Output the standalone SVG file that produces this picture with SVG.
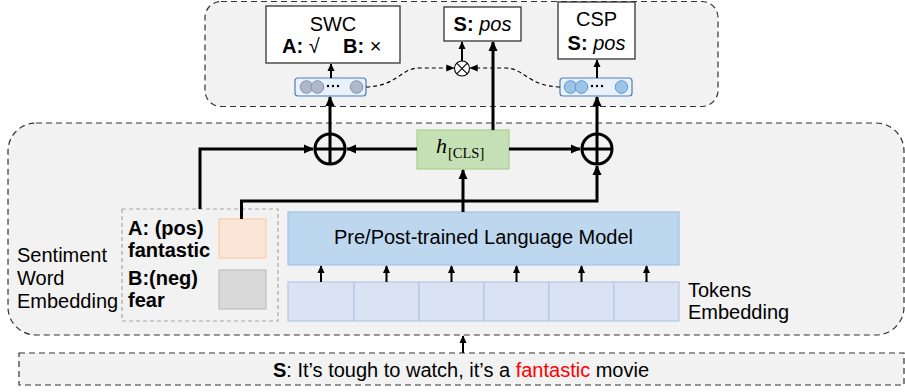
<svg xmlns="http://www.w3.org/2000/svg" width="905" height="392" viewBox="0 0 905 392">
<style>
text{font-family:"Liberation Sans",Arial,sans-serif;font-size:20px;fill:#000}
.b{font-weight:bold}
.i{font-style:italic}
.panel{fill:#F2F2F2;stroke:#333;stroke-width:1.2;stroke-dasharray:6 4}
.box{fill:#fff;stroke:#333;stroke-width:1.3}
.thick{fill:none;stroke:#000;stroke-width:3}
.thin{fill:none;stroke:#000;stroke-width:2}
.dash{fill:none;stroke:#000;stroke-width:1.2;stroke-dasharray:4 3}
.cell{fill:#DAE3F3;stroke:#B4C7E7;stroke-width:1.2}
.cg{fill:#ADB9CA;stroke:#8497B0;stroke-width:1}
.cb{fill:#9DC3E6;stroke:#5B9BD5;stroke-width:1}
.vec{fill:#EAF1FA;stroke:#4A7EBB;stroke-width:1.2}
</style>
<defs>
<marker id="ah" markerUnits="userSpaceOnUse" markerWidth="10" markerHeight="10" viewBox="0 0 10 10" refX="9" refY="5" orient="auto"><path d="M0,0.5 L10,5 L0,9.5 Z" fill="#000"/></marker>
<marker id="as" markerUnits="userSpaceOnUse" markerWidth="8" markerHeight="8" viewBox="0 0 10 10" refX="9" refY="5" orient="auto"><path d="M0,0.5 L10,5 L0,9.5 Z" fill="#000"/></marker>
</defs>

<g id="top-panel"><rect class="panel" x="205" y="1.5" width="513" height="105" rx="16"/></g>
<g id="main-panel"><rect class="panel" x="8" y="123" width="896" height="212" rx="28"/></g>
<g id="sentence">
<rect class="panel" x="19" y="353" width="885" height="32"/>
<text x="461" y="376.5" text-anchor="middle"><tspan class="b">S</tspan>: It’s tough to watch, it’s a <tspan fill="#FF0000" style="fill:#FF0000">fantastic</tspan> movie</text>
</g>

<g id="swc">
<rect class="box" x="266" y="6" width="134" height="57"/>
<text x="333" y="30.5" text-anchor="middle">SWC</text>
<text x="282" y="53"><tspan class="b">A:</tspan> √</text>
<text x="343" y="53"><tspan class="b">B:</tspan> ×</text>
</g>
<g id="spos">
<rect class="box" x="444" y="7" width="77" height="34"/>
<text x="482.5" y="30.5" text-anchor="middle"><tspan class="b">S:</tspan> <tspan class="i">pos</tspan></text>
</g>
<g id="csp">
<rect class="box" x="558" y="2" width="77" height="57"/>
<text x="596.5" y="26" text-anchor="middle">CSP</text>
<text x="596.5" y="50" text-anchor="middle"><tspan class="b">S:</tspan> <tspan class="i">pos</tspan></text>
</g>

<g id="swc-vector">
<rect class="vec" x="295" y="78" width="71" height="18" rx="3"/>
<circle class="cg" cx="306.5" cy="87" r="6.3"/>
<circle class="cg" cx="317.5" cy="87" r="6.3"/>
<circle cx="328" cy="86" r="1.2"/><circle cx="333" cy="86" r="1.2"/><circle cx="338" cy="86" r="1.2"/>
<circle class="cg" cx="356.5" cy="87" r="6.3"/>
</g>
<g id="csp-vector">
<rect class="vec" x="560" y="78" width="72" height="18" rx="3"/>
<circle class="cb" cx="570.5" cy="87" r="6.3"/>
<circle class="cb" cx="581.5" cy="87" r="6.3"/>
<circle cx="592" cy="86" r="1.2"/><circle cx="597" cy="86" r="1.2"/><circle cx="602" cy="86" r="1.2"/>
<circle class="cb" cx="621.5" cy="87" r="6.3"/>
</g>
<g id="otimes">
<circle cx="462" cy="68.5" r="7.5" fill="#fff" stroke="#000" stroke-width="1.1"/>
<path d="M456.7,63.2 L467.3,73.8 M467.3,63.2 L456.7,73.8" stroke="#000" stroke-width="1.1"/>
</g>

<g id="oplus-left">
<circle cx="330" cy="149" r="15" fill="none" stroke="#000" stroke-width="3"/>
<path d="M315,149 H345 M330,134 V164" stroke="#000" stroke-width="3"/>
</g>
<g id="oplus-right">
<circle cx="597" cy="149" r="15" fill="none" stroke="#000" stroke-width="3"/>
<path d="M582,149 H612 M597,134 V164" stroke="#000" stroke-width="3"/>
</g>

<g id="hcls">
<rect x="417" y="130" width="92" height="39" fill="#C5E0B4" stroke="#A9D18E" stroke-width="1.2"/>
<text x="436" y="153" style="font-family:'Liberation Serif','DejaVu Serif',serif;font-style:italic;font-size:22px">h</text>
<text x="448" y="158" style="font-family:'Liberation Serif','DejaVu Serif',serif;font-size:14.5px">[CLS]</text>
</g>

<g id="lm">
<rect x="288" y="212" width="391" height="53" fill="#BDD7EE" stroke="#9DC3E6" stroke-width="1.2"/>
<text x="483.5" y="244" text-anchor="middle">Pre/Post-trained Language Model</text>
</g>

<g id="tokens">
<rect class="cell" x="288" y="282" width="66" height="39"/>
<rect class="cell" x="354" y="282" width="65" height="39"/>
<rect class="cell" x="419" y="282" width="65" height="39"/>
<rect class="cell" x="484" y="282" width="65" height="39"/>
<rect class="cell" x="549" y="282" width="65" height="39"/>
<rect class="cell" x="614" y="282" width="65" height="39"/>
<text x="688" y="297">Tokens</text>
<text x="688" y="318.5">Embedding</text>
</g>

<g id="swe">
<rect x="122" y="209" width="156" height="112" fill="none" stroke="#A6A6A6" stroke-width="1.2" stroke-dasharray="4 3"/>
<text class="b" x="128" y="235">A: (pos)</text>
<text class="b" x="128" y="256.5">fantastic</text>
<text class="b" x="128" y="285">B:(neg)</text>
<text class="b" x="128" y="306.5">fear</text>
<rect x="219" y="219" width="47" height="39" fill="#FBE5D6" stroke="#F8CBAD" stroke-width="1.2"/>
<rect x="219" y="270" width="47" height="39" fill="#D9D9D9" stroke="#BFBFBF" stroke-width="1.2"/>
<text x="17" y="261.5">Sentiment</text>
<text x="17" y="285">Word</text>
<text x="17" y="308">Embedding</text>
</g>

<g id="connectors">
<path class="thick" d="M200,209 V149 H313" marker-end="url(#ah)"/>
<path class="thick" d="M417,149 H347" marker-end="url(#ah)"/>
<path class="thick" d="M241.5,219 V201 H597 V166" marker-end="url(#ah)"/>
<path class="thick" d="M509,149 H580" marker-end="url(#ah)"/>
<path class="thick" d="M463,212 V170" marker-end="url(#ah)"/>
<path class="thick" d="M330,134 V97" marker-end="url(#ah)"/>
<path class="thick" d="M597,134 V97" marker-end="url(#ah)"/>
<path class="thick" d="M493,130 V42" marker-end="url(#ah)"/>
<path class="thin" d="M331,78 V64" marker-end="url(#as)"/>
<path class="thin" d="M597,78 V60" marker-end="url(#as)"/>
<path class="thin" d="M462,61 V42" marker-end="url(#as)"/>
<path class="dash" d="M366,87 C398,86 400,68 420,68 L453.5,68" marker-end="url(#as)"/>
<path class="dash" d="M560,87 C527,86 525,68 505,68 L470.5,68" marker-end="url(#as)"/>
<path class="thin" d="M321,282 V266" marker-end="url(#as)"/>
<path class="thin" d="M386.5,282 V266" marker-end="url(#as)"/>
<path class="thin" d="M451.5,282 V266" marker-end="url(#as)"/>
<path class="thin" d="M516.5,282 V266" marker-end="url(#as)"/>
<path class="thin" d="M581.5,282 V266" marker-end="url(#as)"/>
<path class="thin" d="M646.5,282 V266" marker-end="url(#as)"/>
<path class="thin" d="M463,353 V336" marker-end="url(#as)"/>
</g>
</svg>
